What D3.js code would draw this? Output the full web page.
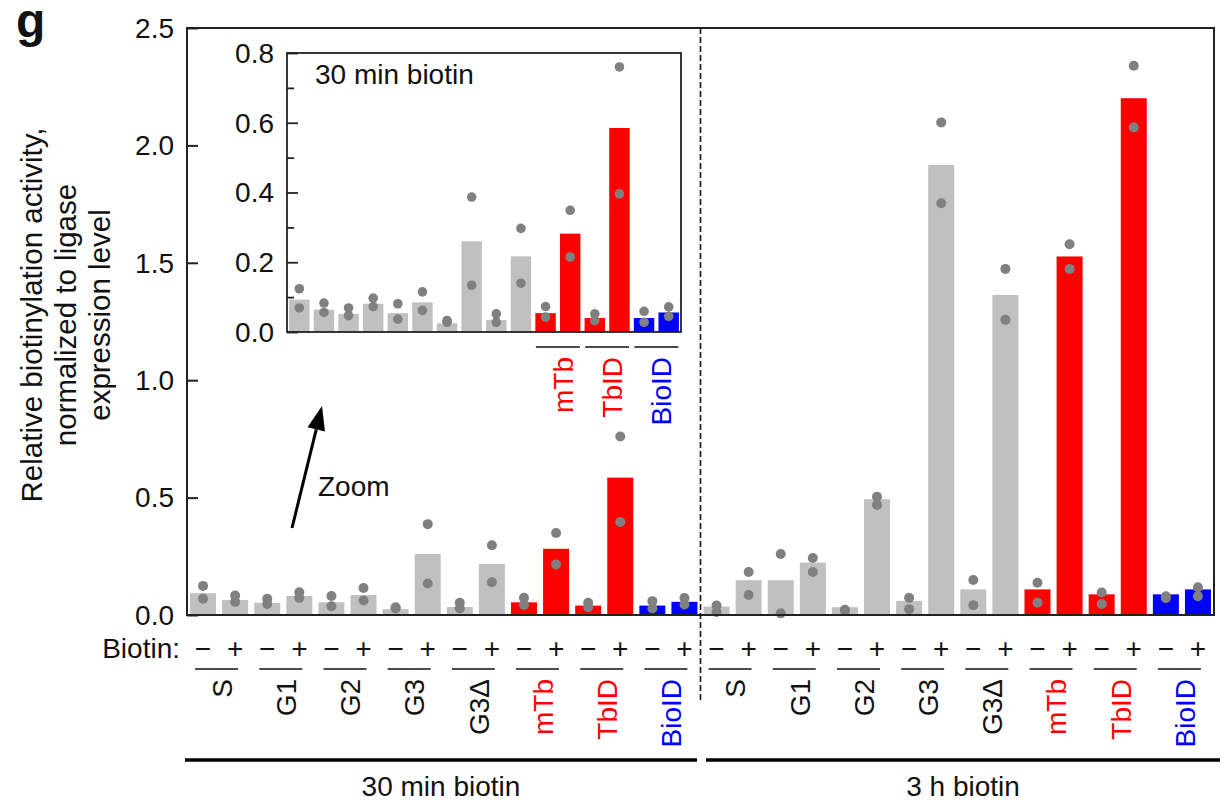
<!DOCTYPE html>
<html>
<head>
<meta charset="utf-8">
<script src="https://cdn.jsdelivr.net/npm/d3@7"></script>
<style>
  body { margin: 0; background: #fff; }
  svg text { font-family: "Liberation Sans", Arial, sans-serif; fill: #111; }
</style>
</head>
<body>
<svg id="chart" width="1227" height="804"></svg>
<script>
// constructs, treatments and time points
var groups = ["S", "G1", "G2", "G3", "G3\u0394", "mTb", "TbID", "BioID"];
var groupColors = ["#111", "#111", "#111", "#111", "#111", "#ff0000", "#ff0000", "#0000ff"];
var barColors = ["#c0c0c0", "#c0c0c0", "#c0c0c0", "#c0c0c0", "#c0c0c0", "#ff0000", "#ff0000", "#0000ff"];
var biotin = ["\u2212", "+"];
var timepoints = ["30 min biotin", "3 h biotin"];

// bar heights, order: S-, S+, G1-, G1+, ...
var mean30min = [0.093, 0.064, 0.052, 0.081, 0.054, 0.085, 0.025, 0.26,
                 0.034, 0.217, 0.054, 0.282, 0.04, 0.585, 0.04, 0.056];
var mean3h = [0.036, 0.148, 0.148, 0.223, 0.033, 0.493, 0.06, 1.917,
              0.109, 1.363, 0.109, 1.527, 0.088, 2.201, 0.088, 0.109];

// replicate points
var reps30min = [[0.124, 0.069], [0.083, 0.056], [0.069, 0.047], [0.097, 0.073],
                 [0.081, 0.037], [0.115, 0.062], [0.033, 0.028], [0.387, 0.134],
                 [0.052, 0.028], [0.297, 0.14], [0.073, 0.043], [0.349, 0.215],
                 [0.052, 0.033], [0.76, 0.396], [0.059, 0.028], [0.072, 0.045]];
var reps3h = [[0.04, 0.013], [0.183, 0.085], [0.26, 0.007], [0.243, 0.183],
              [0.022, 0.018], [0.504, 0.469], [0.073, 0.025], [2.098, 1.754],
              [0.149, 0.042], [1.474, 1.257], [0.137, 0.052], [1.579, 1.474],
              [0.096, 0.047], [2.339, 2.076], [0.08, 0.072], [0.118, 0.08]];

var mainTicks = [0, 0.5, 1.0, 1.5, 2.0, 2.5];
var insetTicks = [0, 0.2, 0.4, 0.6, 0.8];
var insetMinor = [0.1, 0.3, 0.5, 0.7];
var insetGroups = [5, 6, 7];

var svg = d3.select("#chart");
var FS = 28;

// build bar records
var bars = [];
[mean30min, mean3h].forEach(function(means, t) {
    var reps = t === 0 ? reps30min : reps3h;
    means.forEach(function(v, i) {
        bars.push({ idx: t * 16 + i, local: i, t: t, g: Math.floor(i / 2), b: i % 2, value: v, reps: reps[i] });
    });
});

// ---------- main plot ----------
var mLeft = 187, mRight = 1214, mTop = 28, mBottom = 615;

var x = d3.scaleBand().domain(d3.range(32)).range([mLeft, mRight]).paddingInner(0.19).paddingOuter(0.095);
var y = d3.scaleLinear().domain([0, 2.5]).range([mBottom, mTop]);

var main = svg.append("g");

main.selectAll(".bar").data(bars).enter().append("rect")
    .attr("class", "bar")
    .attr("x", function(d) { return x(d.idx); })
    .attr("y", function(d) { return y(d.value); })
    .attr("width", x.bandwidth())
    .attr("height", function(d) { return y(0) - y(d.value); })
    .attr("fill", function(d) { return barColors[d.g]; });

bars.forEach(function(d) {
    main.selectAll(null).data(d.reps).enter().append("circle")
        .attr("cx", x(d.idx) + x.bandwidth() / 2)
        .attr("cy", function(r) { return y(r); })
        .attr("r", 5)
        .attr("fill", "#808080");
});

// frame + ticks
main.append("rect").attr("x", mLeft).attr("y", mTop).attr("width", mRight - mLeft).attr("height", mBottom - mTop)
    .attr("fill", "none").attr("stroke", "#222").attr("stroke-width", 2);

var yAxis = main.append("g").attr("transform", "translate(" + mLeft + ",0)")
    .call(d3.axisRight(y).tickValues(mainTicks).tickSize(11).tickFormat(""));
yAxis.select(".domain").remove();
yAxis.selectAll("line").attr("stroke", "#222").attr("stroke-width", 2);

main.selectAll(".ylab").data(mainTicks).enter().append("text")
    .attr("x", mLeft - 13)
    .attr("y", function(d) { return y(d); })
    .attr("dy", "0.35em")
    .attr("text-anchor", "end")
    .style("font-size", FS + "px")
    .text(function(d) { return d3.format(".1f")(d); });

// dashed separator between time points
var sepX = (x(15) + x.bandwidth() + x(16)) / 2;
main.append("line").attr("x1", sepX).attr("x2", sepX).attr("y1", mTop).attr("y2", 700)
    .attr("stroke", "#111").attr("stroke-width", 1.6).attr("stroke-dasharray", "6,3");

// y label
var ylab = ["Relative biotinylation activity,", "normalized to ligase", "expression level"];
ylab.forEach(function(s, i) {
    svg.append("text")
        .attr("transform", "translate(" + (42 + i * 34) + ",315) rotate(-90)")
        .attr("text-anchor", "middle")
        .style("font-size", "29.5px")
        .text(s);
});

// panel letter
svg.append("text").attr("x", 16).attr("y", 37).style("font-size", "48px").style("font-weight", "bold").text("g");

// ---------- bottom labels ----------
svg.append("text").attr("x", 180).attr("y", 658).attr("text-anchor", "end").style("font-size", FS + "px").text("Biotin:");

svg.selectAll(".sign").data(bars).enter().append("text")
    .attr("x", function(d) { return x(d.idx) + x.bandwidth() / 2; })
    .attr("y", 658)
    .attr("text-anchor", "middle")
    .style("font-size", FS + "px")
    .text(function(d) { return biotin[d.b]; });

var pairs = [];
for (var t = 0; t < 2; t++) {
    for (var g = 0; g < groups.length; g++) {
        pairs.push({ t: t, g: g, i0: t * 16 + g * 2 });
    }
}
function pairCenter(p) {
    return (x(p.i0) + x(p.i0 + 1) + x.bandwidth()) / 2;
}

svg.selectAll(".under").data(pairs).enter().append("line")
    .attr("x1", function(p) { return pairCenter(p) - 24; })
    .attr("x2", function(p) { return pairCenter(p) + 19; })
    .attr("y1", 669).attr("y2", 669)
    .attr("stroke", "#111").attr("stroke-width", 1.5);

svg.selectAll(".glab").data(pairs).enter().append("text")
    .attr("transform", function(p) { return "translate(" + (pairCenter(p) + 3) + ",679) rotate(-90)"; })
    .attr("text-anchor", "end")
    .attr("dy", "0.35em")
    .style("font-size", FS + "px")
    .style("fill", function(p) { return groupColors[p.g]; })
    .text(function(p) { return groups[p.g]; });

// time point brackets
var spans = [[185, 697], [706, 1220]];
spans.forEach(function(s, i) {
    svg.append("line").attr("x1", s[0]).attr("x2", s[1]).attr("y1", 760).attr("y2", 760)
        .attr("stroke", "#000").attr("stroke-width", 3.5);
    svg.append("text").attr("x", (s[0] + s[1]) / 2).attr("y", 796)
        .attr("text-anchor", "middle").style("font-size", FS + "px").text(timepoints[i]);
});

// zoom arrow
var a0 = [292, 528], a1 = [322, 406];
var ang = Math.atan2(a1[1] - a0[1], a1[0] - a0[0]);
var hl = 24, hw = 9;
var bx = a1[0] - hl * Math.cos(ang), by = a1[1] - hl * Math.sin(ang);
svg.append("line").attr("x1", a0[0]).attr("y1", a0[1]).attr("x2", bx).attr("y2", by)
    .attr("stroke", "#000").attr("stroke-width", 3);
svg.append("path")
    .attr("d", "M" + a1[0] + "," + a1[1] +
        "L" + (bx + hw * Math.sin(ang)) + "," + (by - hw * Math.cos(ang)) +
        "L" + (bx - hw * Math.sin(ang)) + "," + (by + hw * Math.cos(ang)) + "Z")
    .attr("fill", "#000");
svg.append("text").attr("x", 318).attr("y", 496).style("font-size", FS + "px").text("Zoom");

// ---------- inset (30 min zoom) ----------
var iLeft = 287, iRight = 681, iTop = 53, iBottom = 332;
var xi = d3.scaleBand().domain(d3.range(16)).range([iLeft, iRight]).paddingInner(0.17).paddingOuter(0.085);
var yi = d3.scaleLinear().domain([0, 0.8]).range([iBottom, iTop]);
var inset = svg.append("g");
var bars30 = bars.filter(function(d) { return d.t === 0; });

inset.append("rect").attr("x", iLeft).attr("y", iTop).attr("width", iRight - iLeft).attr("height", iBottom - iTop)
    .attr("fill", "#fff");

inset.selectAll(".ibar").data(bars30).enter().append("rect")
    .attr("x", function(d) { return xi(d.local); })
    .attr("y", function(d) { return yi(d.value); })
    .attr("width", xi.bandwidth())
    .attr("height", function(d) { return yi(0) - yi(d.value); })
    .attr("fill", function(d) { return barColors[d.g]; });

bars30.forEach(function(d) {
    inset.selectAll(null).data(d.reps).enter().append("circle")
        .attr("cx", xi(d.local) + xi.bandwidth() / 2)
        .attr("cy", function(r) { return yi(r); })
        .attr("r", 4.8)
        .attr("fill", "#808080");
});

inset.append("rect").attr("x", iLeft).attr("y", iTop).attr("width", iRight - iLeft).attr("height", iBottom - iTop)
    .attr("fill", "none").attr("stroke", "#222").attr("stroke-width", 1.8);

var iAxis = inset.append("g").attr("transform", "translate(" + iLeft + ",0)")
    .call(d3.axisRight(yi).tickValues(insetTicks).tickSize(11).tickFormat(""));
iAxis.select(".domain").remove();
iAxis.selectAll("line").attr("stroke", "#222").attr("stroke-width", 1.8);
var iMinor = inset.append("g").attr("transform", "translate(" + iLeft + ",0)")
    .call(d3.axisRight(yi).tickValues(insetMinor).tickSize(7).tickFormat(""));
iMinor.select(".domain").remove();
iMinor.selectAll("line").attr("stroke", "#222").attr("stroke-width", 1.8);

inset.selectAll(".ilab").data(insetTicks).enter().append("text")
    .attr("x", iLeft - 13)
    .attr("y", function(d) { return yi(d); })
    .attr("dy", "0.35em")
    .attr("text-anchor", "end")
    .style("font-size", FS + "px")
    .text(function(d) { return d3.format(".1f")(d); });

inset.append("text").attr("x", 315).attr("y", 84).style("font-size", FS + "px").text(timepoints[0]);

function iPairCenter(g) {
    return (xi(g * 2) + xi(g * 2 + 1) + xi.bandwidth()) / 2;
}
inset.selectAll(".iunder").data(insetGroups).enter().append("line")
    .attr("x1", function(g) { return iPairCenter(g) - 22; })
    .attr("x2", function(g) { return iPairCenter(g) + 22; })
    .attr("y1", 347).attr("y2", 347)
    .attr("stroke", "#111").attr("stroke-width", 1.5);
inset.selectAll(".iglab").data(insetGroups).enter().append("text")
    .attr("transform", function(g) { return "translate(" + (iPairCenter(g) + 5) + ",357) rotate(-90)"; })
    .attr("text-anchor", "end")
    .attr("dy", "0.35em")
    .style("font-size", FS + "px")
    .style("fill", function(g) { return groupColors[g]; })
    .text(function(g) { return groups[g]; });
</script>
</body>
</html>
